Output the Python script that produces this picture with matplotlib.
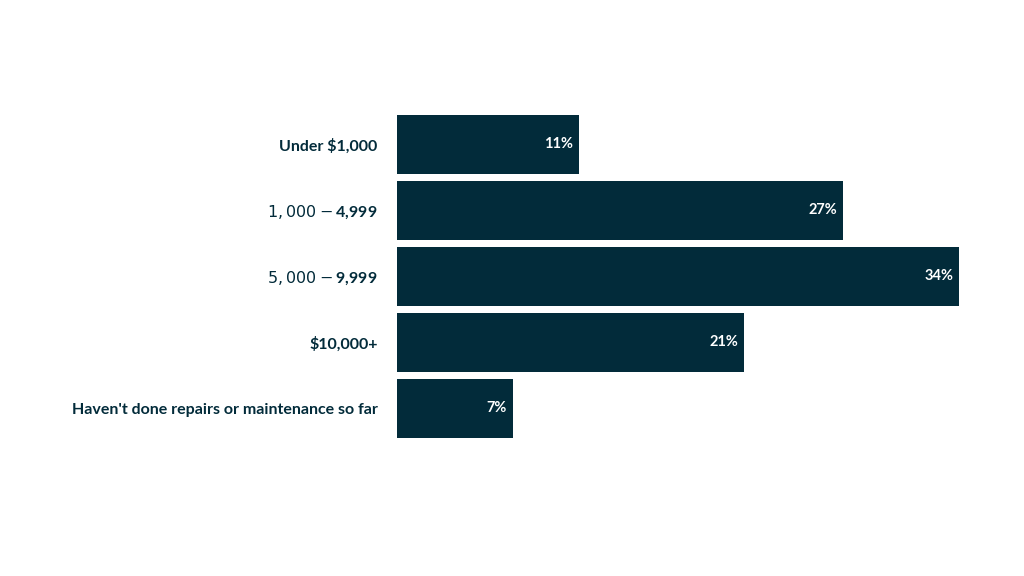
import matplotlib
matplotlib.use("Agg")
import matplotlib.pyplot as plt

categories = ["Under $1,000", "$1,000-$4,999", "$5,000-$9,999", "$10,000+",
              "Haven't done repairs or maintenance so far"]
values = [11, 27, 34, 21, 7]

bar_color = "#022b3a"
plt.rcParams["font.family"] = ["Lato", "DejaVu Sans"]

fig = plt.figure(figsize=(10.24, 5.76), dpi=100)
ax = fig.add_axes([397 / 1024, 1 - 438 / 576, (959 - 397) / 1024, (438 - 115) / 576])

pos = list(range(len(categories)))
ax.barh(pos, values, height=59 / 66, color=bar_color)
ax.set_xlim(0, max(values))
ax.set_ylim(len(categories) - 0.5 - (1 - 59 / 66) / 2, -0.5 + (1 - 59 / 66) / 2)

for p, v in zip(pos, values):
    ax.text(v - 0.35, p, f"{v}%", ha="right", va="center", color="white",
            fontsize=10.5, fontweight="bold")

ax.set_yticks(pos)
ax.set_yticklabels(categories, fontsize=11.5, fontweight="bold", color=bar_color)
ax.tick_params(axis="y", length=0, pad=14)
ax.set_xticks([])
for s in ax.spines.values():
    s.set_visible(False)

fig.savefig("out.png", dpi=100)
